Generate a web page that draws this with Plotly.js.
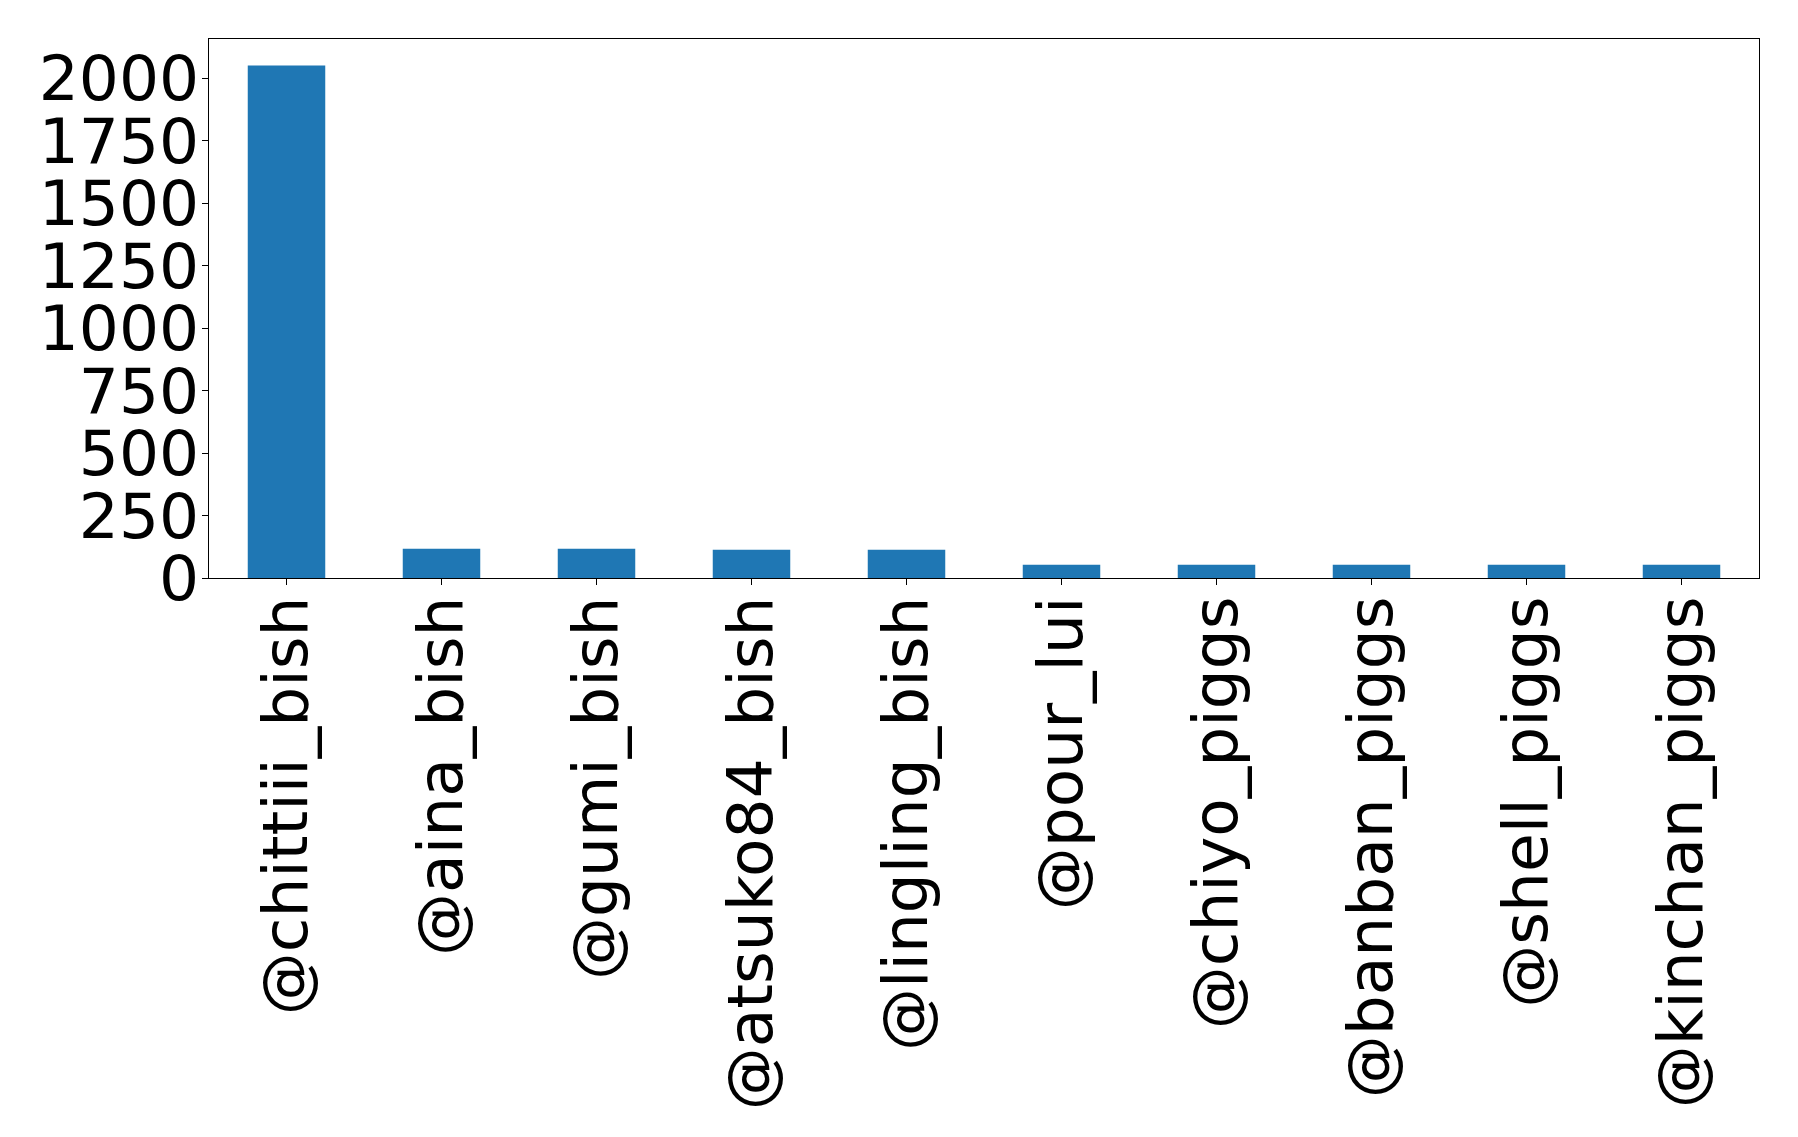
<!DOCTYPE html>
<html>
<head>
<meta charset="utf-8">
<script src="https://cdn.plot.ly/plotly-3.0.1.min.js"></script>
<style>
  html, body { margin: 0; padding: 0; background: #fff; }
  #chart { width: 1798px; height: 1137px; }
</style>
</head>
<body>
<div id="chart"></div>
<script>
// accounts and counts
var cuentas = ['@chittiii_bish', '@aina_bish', '@gumi_bish', '@atsuko84_bish', '@lingling_bish',
               '@pour_lui', '@chiyo_piggs', '@banban_piggs', '@shell_piggs', '@kinchan_piggs'];
var conteos = [2050, 117, 117, 113, 113, 53, 53, 53, 53, 53];
var marcasY = [0, 250, 500, 750, 1000, 1250, 1500, 1750, 2000];

var data = [{
  x: cuentas,
  y: conteos,
  type: 'bar',
  width: 0.5,
  marker: { color: '#1f77b4' },
  hoverinfo: 'x+y'
}];

var layout = {
  width: 1798,
  height: 1137,
  margin: { l: 209, r: 39, t: 39, b: 559 },
  paper_bgcolor: '#fff',
  plot_bgcolor: '#fff',
  showlegend: false,
  font: { family: 'DejaVu Sans', color: '#000', size: 63 },
  xaxis: {
    type: 'category',
    range: [-0.5, 9.5],
    tickangle: -90,
    ticks: 'outside',
    ticklen: 6,
    tickcolor: '#000',
    ticklabelstandoff: -14,
    showline: true,
    linecolor: '#000',
    linewidth: 1.3,
    mirror: true,
    showgrid: false,
    tickfont: { family: 'DejaVu Sans', size: 63, color: '#000' }
  },
  yaxis: {
    range: [0, 2156],
    tickvals: marcasY,
    ticks: 'outside',
    ticklen: 6,
    tickcolor: '#000',
    ticklabelstandoff: -10,
    showline: true,
    linecolor: '#000',
    linewidth: 1.3,
    mirror: true,
    showgrid: false,
    zeroline: false,
    tickfont: { family: 'DejaVu Sans', size: 63, color: '#000' }
  }
};

Plotly.newPlot('chart', data, layout, { displayModeBar: false, staticPlot: true });
</script>
</body>
</html>
